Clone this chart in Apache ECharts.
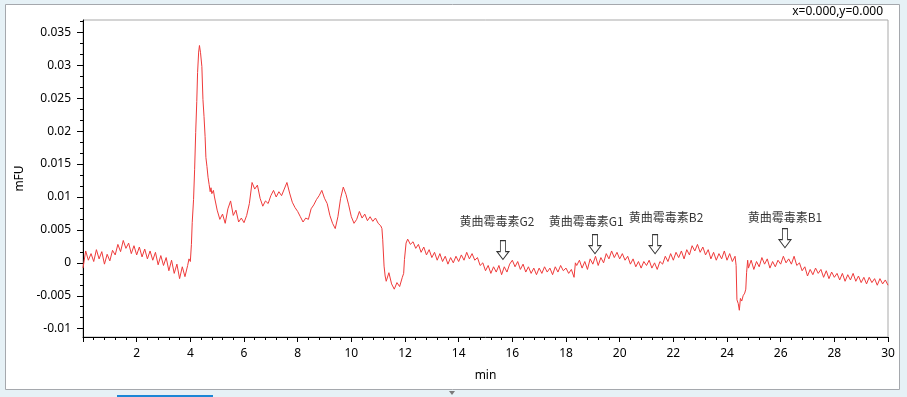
<!DOCTYPE html>
<html>
<head>
<meta charset="utf-8">
<title>黄曲霉毒素 荧光色谱图</title>
<script src="https://cdn.jsdelivr.net/npm/echarts@6/dist/echarts.min.js"></script>
<style>
html, body { margin: 0; padding: 0; background: #e6f1f6; }
#chart { width: 907px; height: 397px; }
</style>
</head>
<body>
<div id="chart"></div>
<script>
// retention time (min), signal (mFU)
const trace = [
  [0.0, -0.0008], [0.1, 0.0018], [0.2, 0.0004], [0.3, 0.0014], [0.4, 0.0002], [0.5, 0.0020],
  [0.6, 0.0006], [0.7, 0.0017], [0.8, -0.0002], [0.9, 0.0013], [1.0, 0.0003], [1.1, 0.0019],
  [1.2, 0.0012], [1.3, 0.0028], [1.4, 0.0017], [1.5, 0.0034], [1.6, 0.0022], [1.7, 0.0030],
  [1.8, 0.0014], [1.9, 0.0026], [2.0, 0.0012], [2.1, 0.0024], [2.2, 0.0009], [2.3, 0.0021],
  [2.4, 0.0006], [2.5, 0.0018], [2.6, 0.0004], [2.7, 0.0016], [2.8, -0.0003], [2.9, 0.0011],
  [3.0, -0.0004], [3.1, 0.0008], [3.2, -0.0012], [3.3, 0.0004], [3.4, -0.0016], [3.5, -0.0002],
  [3.6, -0.0024], [3.7, -0.0006], [3.8, -0.0021], [3.9, -0.0004], [3.95, 0.0006], [4.0, 0.0002],
  [4.04, 0.0028], [4.07, 0.0061], [4.12, 0.0096], [4.16, 0.0142], [4.2, 0.0198], [4.24, 0.0245],
  [4.27, 0.0289], [4.31, 0.0320], [4.34, 0.0330], [4.38, 0.0319], [4.43, 0.0298], [4.47, 0.0248],
  [4.51, 0.0222], [4.55, 0.0192], [4.58, 0.0160], [4.62, 0.0146], [4.66, 0.0130], [4.7, 0.0119],
  [4.74, 0.0108], [4.77, 0.0114], [4.8, 0.0105], [4.86, 0.0110], [4.9, 0.0100], [4.95, 0.0099],
  [5.0, 0.0080], [5.1, 0.0066], [5.2, 0.0074], [5.3, 0.0060], [5.4, 0.0082], [5.5, 0.0094],
  [5.6, 0.0072], [5.7, 0.0080], [5.8, 0.0062], [5.9, 0.0068], [6.0, 0.0061], [6.1, 0.0072],
  [6.2, 0.0090], [6.3, 0.0122], [6.4, 0.0112], [6.5, 0.0118], [6.6, 0.0098], [6.7, 0.0086],
  [6.8, 0.0094], [6.9, 0.0090], [7.0, 0.0102], [7.1, 0.0110], [7.2, 0.0100], [7.3, 0.0108],
  [7.4, 0.0102], [7.5, 0.0112], [7.6, 0.0122], [7.7, 0.0106], [7.8, 0.0092], [7.9, 0.0084],
  [8.0, 0.0078], [8.1, 0.0070], [8.2, 0.0062], [8.3, 0.0068], [8.4, 0.0066], [8.5, 0.0082],
  [8.6, 0.0088], [8.7, 0.0096], [8.8, 0.0102], [8.9, 0.0110], [9.0, 0.0098], [9.1, 0.0090],
  [9.2, 0.0072], [9.3, 0.0060], [9.4, 0.0052], [9.5, 0.0070], [9.6, 0.0098], [9.7, 0.0115],
  [9.8, 0.0104], [9.9, 0.0088], [10.0, 0.0070], [10.1, 0.0060], [10.2, 0.0066], [10.3, 0.0078],
  [10.4, 0.0068], [10.5, 0.0074], [10.6, 0.0064], [10.7, 0.0070], [10.8, 0.0063], [10.9, 0.0068],
  [11.0, 0.0060], [11.1, 0.0056], [11.14, 0.0052], [11.17, 0.0035], [11.22, -0.0005], [11.26, -0.0020],
  [11.3, -0.0028], [11.4, -0.0015], [11.5, -0.0032], [11.6, -0.0040], [11.7, -0.0030], [11.8, -0.0036],
  [11.9, -0.0022], [11.95, -0.0016], [11.98, 0.0005], [12.04, 0.0030], [12.1, 0.0036], [12.2, 0.0028],
  [12.3, 0.0032], [12.4, 0.0022], [12.5, 0.0028], [12.6, 0.0016], [12.7, 0.0024], [12.8, 0.0012],
  [12.9, 0.0020], [13.0, 0.0008], [13.1, 0.0016], [13.2, 0.0004], [13.3, 0.0014], [13.4, 0.0002],
  [13.5, 0.0010], [13.6, -0.0002], [13.7, 0.0008], [13.8, 0.0000], [13.9, 0.0010], [14.0, 0.0002],
  [14.1, 0.0012], [14.2, 0.0004], [14.3, 0.0016], [14.4, 0.0006], [14.5, 0.0014], [14.6, 0.0004],
  [14.7, 0.0008], [14.8, -0.0004], [14.9, 0.0000], [15.0, -0.0012], [15.1, -0.0004], [15.2, -0.0016],
  [15.3, -0.0006], [15.4, -0.0014], [15.5, -0.0004], [15.6, -0.0018], [15.7, -0.0006], [15.8, -0.0014],
  [15.9, -0.0002], [16.0, 0.0004], [16.1, -0.0006], [16.2, 0.0002], [16.3, -0.0010], [16.4, -0.0002],
  [16.5, -0.0014], [16.6, -0.0006], [16.7, -0.0016], [16.8, -0.0008], [16.9, -0.0018], [17.0, -0.0008],
  [17.1, -0.0016], [17.2, -0.0006], [17.3, -0.0014], [17.4, -0.0008], [17.5, -0.0018], [17.6, -0.0006],
  [17.7, -0.0014], [17.8, -0.0004], [17.9, -0.0012], [18.0, -0.0008], [18.1, -0.0016], [18.2, -0.0010],
  [18.3, -0.0022], [18.35, 0.0000], [18.4, -0.0004], [18.5, 0.0004], [18.6, -0.0008], [18.7, 0.0002],
  [18.8, -0.0010], [18.9, 0.0006], [19.0, -0.0002], [19.1, 0.0010], [19.2, -0.0004], [19.3, 0.0008],
  [19.4, 0.0000], [19.5, 0.0014], [19.6, 0.0006], [19.7, 0.0018], [19.8, 0.0008], [19.9, 0.0016],
  [20.0, 0.0006], [20.1, 0.0014], [20.2, 0.0004], [20.3, 0.0010], [20.4, -0.0002], [20.5, 0.0006],
  [20.6, -0.0006], [20.7, 0.0002], [20.8, -0.0008], [20.9, 0.0002], [21.0, -0.0004], [21.1, 0.0004],
  [21.2, -0.0008], [21.3, 0.0000], [21.4, -0.0010], [21.5, 0.0002], [21.6, -0.0002], [21.7, 0.0010],
  [21.8, 0.0002], [21.9, 0.0014], [22.0, 0.0004], [22.1, 0.0016], [22.2, 0.0008], [22.3, 0.0018],
  [22.4, 0.0006], [22.5, 0.0020], [22.6, 0.0012], [22.7, 0.0026], [22.8, 0.0018], [22.9, 0.0028],
  [23.0, 0.0016], [23.1, 0.0024], [23.2, 0.0012], [23.3, 0.0020], [23.4, 0.0006], [23.5, 0.0016],
  [23.6, 0.0004], [23.7, 0.0014], [23.8, 0.0006], [23.9, 0.0018], [24.0, 0.0004], [24.1, 0.0014],
  [24.2, 0.0002], [24.3, 0.0010], [24.34, -0.0004], [24.37, -0.0056], [24.42, -0.0062], [24.46, -0.0072],
  [24.5, -0.0054], [24.55, -0.0058], [24.6, -0.0050], [24.66, -0.0046], [24.7, -0.0040], [24.73, -0.0015],
  [24.77, 0.0004], [24.8, -0.0008], [24.9, 0.0004], [25.0, -0.0010], [25.1, 0.0002], [25.2, -0.0006],
  [25.3, 0.0008], [25.4, -0.0002], [25.5, 0.0006], [25.6, -0.0008], [25.7, 0.0002], [25.8, -0.0006],
  [25.9, 0.0004], [26.0, -0.0002], [26.1, 0.0010], [26.2, 0.0000], [26.3, 0.0006], [26.4, -0.0002],
  [26.5, 0.0010], [26.6, -0.0004], [26.7, 0.0000], [26.8, -0.0012], [26.9, -0.0006], [27.0, -0.0020],
  [27.1, -0.0010], [27.2, -0.0018], [27.3, -0.0008], [27.4, -0.0016], [27.5, -0.0010], [27.6, -0.0022],
  [27.7, -0.0012], [27.8, -0.0024], [27.9, -0.0014], [28.0, -0.0022], [28.1, -0.0016], [28.2, -0.0026],
  [28.3, -0.0016], [28.4, -0.0028], [28.5, -0.0018], [28.6, -0.0026], [28.7, -0.0016], [28.8, -0.0028],
  [28.9, -0.0020], [29.0, -0.0030], [29.1, -0.0022], [29.2, -0.0032], [29.3, -0.0022], [29.4, -0.0030],
  [29.5, -0.0024], [29.6, -0.0034], [29.7, -0.0024], [29.8, -0.0032], [29.9, -0.0026], [30.0, -0.0034],
]

// marked peaks: arrow tip (time, level) and where the name sits
const peakNames = ['黄曲霉毒素G2', '黄曲霉毒素G1', '黄曲霉毒素B2', '黄曲霉毒素B1']
const peakTimes = [15.65, 19.08, 21.32, 26.16]
const peakLevels = [0.0005, 0.0014, 0.0014, 0.0023]
const nameTimes = [15.43, 18.75, 21.73, 26.16]
const nameLevels = [0.0063, 0.0063, 0.0069, 0.0069]

const yTicks = [-0.01, -0.005, 0, 0.005, 0.01, 0.015, 0.02, 0.025, 0.03, 0.035]
const yRange = [-0.01126, 0.03687]
const xRange = [0, 30]

// three minor steps between labelled y ticks
const yStep = 0.005 / 3
const yMinorTicks = []
for (let v = yTicks[0] + yStep; v < yRange[1]; v += yStep) {
  if (Math.abs(v / 0.005 - Math.round(v / 0.005)) > 0.01) yMinorTicks.push(+v.toFixed(6))
}

const FONT = '"Noto Sans", "DejaVu Sans", sans-serif'
const CJK = '"Noto Sans CJK SC", sans-serif'

const baseYAxis = {
  type: 'value',
  min: yRange[0],
  max: yRange[1],
  position: 'left',
  splitLine: { show: false },
}

const chart = echarts.init(document.getElementById('chart'))
chart.setOption({
  backgroundColor: '#e6f1f6',
  animation: false,
  textStyle: { fontFamily: FONT },
  graphic: [
    {
      type: 'rect',
      z: -100,
      shape: { x: 5.5, y: 4.5, width: 894, height: 385 },
      style: { fill: '#fff', stroke: '#a5a8ad', lineWidth: 1 },
    },
    {
      type: 'text',
      style: {
        text: 'x=0.000,y=0.000',
        x: 883, y: 12,
        align: 'right', verticalAlign: 'middle',
        fontSize: 12, fontFamily: FONT, fill: '#000',
      },
    },
    {
      type: 'rect',
      shape: { x: 117, y: 395, width: 96, height: 2 },
      style: { fill: '#1b87d6' },
    },
    {
      type: 'polygon',
      shape: { points: [[449, 391], [455, 391], [452, 395]] },
      style: { fill: '#7a7a7a' },
    },
  ],
  grid: {
    left: 83,
    right: 19,
    top: 20,
    bottom: 60,
    show: true,
    borderColor: '#a9a9a9',
    borderWidth: 1,
    backgroundColor: '#fff',
  },
  xAxis: {
    type: 'value',
    min: xRange[0],
    max: xRange[1],
    interval: 2,
    name: 'min',
    nameLocation: 'middle',
    nameGap: 33,
    nameTextStyle: { color: '#000', fontSize: 12 },
    axisLine: { onZero: false, lineStyle: { color: '#000', width: 1 } },
    axisTick: { length: 5, lineStyle: { color: '#000' } },
    minorTick: { show: true, splitNumber: 5, length: 3, lineStyle: { color: '#000' } },
    axisLabel: {
      color: '#000',
      fontSize: 12,
      margin: 11,
      formatter: (v) => (v === 0 ? '' : String(v)),
    },
    splitLine: { show: false },
  },
  yAxis: [
    {
      ...baseYAxis,
      name: 'mFU',
      nameLocation: 'middle',
      nameGap: 56,
      nameTextStyle: { color: '#000', fontSize: 12 },
      axisLine: { show: true, onZero: false, lineStyle: { color: '#000', width: 1 } },
      axisTick: { show: true, length: 6, customValues: yTicks, lineStyle: { color: '#000' } },
      axisLabel: { color: '#000', fontSize: 12, margin: 12, customValues: yTicks },
    },
    {
      ...baseYAxis,
      axisLine: { show: false, onZero: false },
      axisTick: { show: true, length: 3, customValues: yMinorTicks, lineStyle: { color: '#000' } },
      axisLabel: { show: false },
    },
  ],
  series: [
    {
      type: 'line',
      data: trace,
      showSymbol: false,
      symbol: 'none',
      lineStyle: { color: '#ef3a3a', width: 1 },
      silent: true,
      z: 3,
    },
    {
      type: 'scatter',
      data: peakTimes.map((t, i) => [t, peakLevels[i]]),
      symbol: 'path://M-3,0L3,0L3,11L7,11L0,19L-7,11L-3,11Z',
      symbolSize: [12, 19],
      symbolOffset: [0, '-50%'],
      itemStyle: { color: '#fff', borderColor: '#000', borderWidth: 1 },
      silent: true,
      z: 5,
    },
    {
      type: 'scatter',
      data: nameTimes.map((t, i) => ({ name: peakNames[i], value: [t, nameLevels[i]] })),
      symbol: 'circle',
      symbolSize: 1,
      itemStyle: { color: 'rgba(0,0,0,0)' },
      label: {
        show: true,
        position: 'inside',
        formatter: (p) => p.name,
        color: '#000',
        fontSize: 12,
        fontFamily: CJK,
      },
      silent: true,
      z: 5,
    },
  ],
})
</script>
</body>
</html>
